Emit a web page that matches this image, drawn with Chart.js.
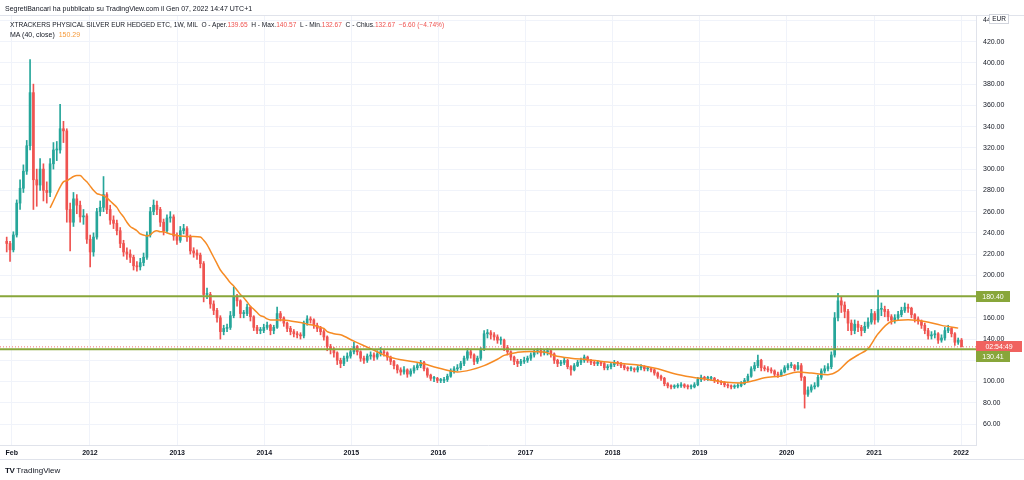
<!DOCTYPE html>
<html>
<head>
<meta charset="utf-8">
<script src="https://cdn.jsdelivr.net/npm/chart.js@4.4.1/dist/chart.umd.min.js"></script>
<style>
  body { margin: 0; background: #fff; }
  #wrap { position: relative; width: 1024px; height: 480px; font-family: "Liberation Sans", Arial, sans-serif; color: #131722; }
  .t { position: absolute; white-space: pre; font-size: 7px; line-height: 9px; }
  .red { color: #ef5350; }
  .ora { color: #f59a3b; }
</style>
</head>
<body>
<div id="wrap">
  <canvas id="chart" width="1024" height="480"></canvas>
  <div class="t" style="left:5px;top:4px">SegretiBancari ha pubblicato su TradingView.com il Gen 07, 2022 14:47 UTC+1</div>
  <div class="t" style="left:10px;top:20px;font-size:6.6px">XTRACKERS PHYSICAL SILVER EUR HEDGED ETC, 1W, MIL  O - Aper.<span class="red">139.65</span>  H - Max.<span class="red">140.57</span>  L - Min.<span class="red">132.67</span>  C - Chius.<span class="red">132.67  −6.60 (−4.74%)</span></div>
  <div class="t" style="left:10px;top:30px">MA (40, close)  <span class="ora">150.29</span></div>
  <div class="t" style="left:5px;top:466px;font-size:8px"><b style="letter-spacing:-0.5px">TV</b> TradingView</div>
</div>
<script>
// biweekly candles, first one starts on this date
const startDate = '2011-01-17';
const stepDays = 14;
const firstOpen = 232;

const closes = [
  230, 224, 238, 268, 282, 298, 322, 372, 290, 285,
  300, 280, 278, 305, 318, 318, 338, 336, 262, 250,
  272, 266, 255, 256, 234, 222, 236, 260, 264, 276,
  262, 252, 249, 242, 230, 222, 220, 217, 209, 208,
  212, 217, 238, 260, 266, 262, 250, 242, 254, 255,
  237, 233, 242, 244, 236, 223, 221, 219, 211, 182,
  182, 173, 167, 160, 147, 150, 151, 162, 180, 176,
  164, 164, 170, 161, 151, 148, 148, 151, 153, 148,
  151, 164, 160, 155, 150, 147, 145, 144, 143, 155,
  159, 158, 153, 150, 147, 142, 133, 130, 127, 120,
  117, 122, 124, 128, 133, 128, 122, 120, 124, 125,
  123, 126, 128, 127, 123, 119, 115, 111, 109, 111,
  107, 110, 113, 115, 118, 112, 106, 103, 103, 101,
  101, 102, 105, 110, 112, 113, 117, 122, 128, 125,
  119, 122, 130, 145, 146, 144, 142, 139, 139, 132,
  128, 123, 119, 117, 119, 120, 122, 125, 128, 129,
  127, 128, 129, 126, 120, 117, 118, 120, 114, 111,
  115, 118, 120, 123, 120, 118, 117, 118, 117, 113,
  114, 116, 118, 117, 115, 113, 112, 112, 111, 113,
  114, 112, 112, 111, 108, 105, 103, 98, 96, 95,
  95.5, 96, 97, 95.5, 95, 95, 97, 102, 104, 103,
  103, 103, 101, 100, 99, 97, 96, 95, 95.5, 96,
  98, 101, 105, 112, 115, 120, 113, 112, 111, 110,
  107, 106, 109, 113, 115, 115, 112, 115, 104, 88,
  92, 95, 96, 104, 110, 112, 114, 125, 160, 176,
  172, 166, 155, 148, 154, 151, 148, 152, 156, 164,
  158, 168, 168, 166, 161, 158, 160, 163, 167, 170,
  169, 163, 159, 157, 153, 148, 143, 144, 145, 139,
  141, 148, 150, 145, 137, 139, 132.67
];

const highs = [
  236, 232, 241, 271, 290, 304, 327, 403, 380, 300,
  310, 305, 288, 310, 325, 326, 361, 345, 338, 268,
  278, 276, 270, 262, 258, 238, 240, 263, 270, 293,
  278, 266, 256, 252, 245, 233, 226, 224, 219, 213,
  216, 221, 241, 264, 271, 270, 264, 253, 257, 260,
  257, 240, 246, 248, 246, 238, 226, 224, 221, 213,
  188, 184, 176, 169, 162, 153, 154, 166, 189, 182,
  177, 167, 173, 171, 162, 153, 151, 154, 156, 154,
  153, 170, 166, 161, 156, 152, 149, 147, 146, 157,
  162, 161, 159, 155, 152, 149, 143, 135, 132, 128,
  122, 124, 127, 131, 137, 134, 129, 124, 126, 128,
  127, 129, 132, 130, 128, 124, 120, 116, 113, 114,
  112, 112, 115, 117, 120, 119, 113, 107, 105, 104,
  103, 104, 107, 112, 114, 116, 119, 124, 131, 130,
  126, 124, 132, 148, 149, 148, 146, 144, 142, 140,
  134, 129, 124, 121, 121, 123, 124, 127, 130, 131,
  131, 130, 131, 130, 127, 121, 120, 122, 121, 115,
  117, 120, 122, 125, 124, 121, 120, 120, 119, 118,
  116, 118, 120, 119, 118, 116, 114, 114, 113, 115,
  116, 115, 114, 113, 112, 109, 106, 104, 99, 97,
  97, 98, 99, 98, 97, 97, 99, 104, 106, 105,
  105, 105, 104, 102, 101, 100, 98, 97, 97, 98,
  100, 103, 107, 114, 118, 125, 121, 115, 114, 113,
  111, 109, 111, 115, 117, 118, 116, 118, 117, 105,
  95, 97, 99, 106, 112, 115, 117, 128, 165, 183,
  180, 175, 168, 158, 158, 157, 153, 156, 160, 168,
  166, 186, 174, 171, 168, 163, 163, 166, 170, 174,
  173, 170, 164, 161, 158, 155, 150, 147, 148, 146,
  144, 151, 153, 151, 146, 141, 140.57
];

const lows = [
  222, 213, 222, 236, 262, 278, 295, 318, 262, 265,
  280, 270, 268, 274, 300, 308, 315, 325, 250, 223,
  246, 258, 250, 248, 230, 208, 218, 234, 256, 260,
  258, 248, 244, 238, 226, 218, 215, 212, 205, 204,
  205, 209, 215, 236, 257, 257, 246, 238, 240, 250,
  233, 229, 231, 239, 232, 220, 217, 215, 207, 175,
  178, 169, 163, 156, 140, 144, 147, 149, 160, 171,
  160, 160, 162, 157, 148, 145, 145, 146, 149, 144,
  145, 150, 157, 152, 147, 144, 142, 141, 140, 141,
  153, 155, 150, 147, 144, 139, 129, 126, 123, 116,
  113, 115, 119, 122, 126, 125, 119, 117, 118, 121,
  120, 121, 124, 124, 120, 116, 112, 108, 106, 107,
  104, 105, 108, 111, 113, 110, 104, 101, 100, 99,
  99, 99, 100, 104, 108, 110, 111, 115, 120, 122,
  116, 117, 120, 129, 141, 140, 139, 136, 135, 129,
  125, 120, 116, 114, 115, 117, 118, 120, 123, 126,
  124, 125, 125, 123, 117, 114, 115, 116, 112, 106,
  110, 114, 116, 118, 118, 116, 115, 115, 115, 111,
  111, 112, 114, 115, 113, 111, 110, 110, 109, 109,
  111, 110, 110, 109, 106, 103, 101, 96, 94, 93,
  93.5, 94, 94.5, 94, 93, 93, 94, 96, 100, 101,
  101, 101, 99, 98, 97, 95, 94, 93, 93.5, 94,
  95, 97, 100, 104, 110, 113, 110, 110, 109, 108,
  105, 104, 105, 108, 111, 113, 110, 111, 101, 75,
  86, 90, 93, 95, 102, 108, 110, 112, 123, 157,
  165, 160, 148, 144, 145, 147, 143, 146, 150, 154,
  154, 156, 162, 161, 157, 154, 155, 158, 161, 165,
  165, 160, 156, 154, 150, 145, 140, 140, 141, 136,
  137, 139, 146, 142, 134, 135, 132.67
];

// MA(40, close) at these candle positions
const maSlots = [
  13, 14, 15.5, 17, 18, 19, 20, 21, 22, 23,
  24, 25, 26, 27, 28, 29, 30, 31, 32, 33,
  34, 35, 36, 37, 38, 39, 40, 41, 42, 43,
  44, 45, 46, 47, 48, 49, 50, 51, 52, 54,
  56, 58, 59, 60, 61, 62, 63, 64, 65, 66,
  67, 68, 69, 70, 71, 72, 73, 74, 75, 76,
  77, 78, 79, 80, 83, 85, 87, 88, 89, 90,
  92, 93, 94, 95, 96, 97, 98, 100, 104, 109,
  114, 119, 124, 129, 133, 135, 139, 143, 147, 149,
  153, 157, 161, 164, 169, 174, 180, 185, 190, 195,
  200, 205, 210, 215, 220, 224, 227, 232, 237, 241,
  246, 249, 252, 255, 258, 261, 265, 270, 275, 280, 285
];
const maValues = [
  263.5, 270, 280, 288, 289, 291, 293, 294, 294, 291,
  288, 284, 280, 277, 276, 275, 273, 270, 267, 264,
  259, 255, 250, 246, 244, 242, 239, 238, 237, 238,
  241, 242, 241, 241, 240, 239, 238.5, 237.5, 237, 236.6,
  236.6, 236, 233, 229, 223, 217, 211, 205, 201, 197,
  193, 190, 186, 182, 179, 175, 171, 168, 165, 162,
  161, 159, 158, 158, 158, 157, 156, 155.5, 155, 154,
  153, 152, 151, 150, 147, 146, 145, 144, 138, 131,
  123.7, 120, 117.4, 113, 110, 109, 111, 115, 121, 124.6,
  127.5, 128.4, 127.8, 124.6, 122, 120.6, 118.4, 116.8, 115.2, 112,
  107.4, 104.3, 102, 99.5, 98.6, 101, 103.6, 105.2, 109, 108,
  106.5, 110, 119, 125, 131, 145, 156.5, 158.2, 156.6, 152.9, 150.3
];

const levels = [180.40, 130.41];
const lastPrice = 132.67;
const countdown = '02:54:49';
const priceTicks = [60, 80, 100, 120, 140, 160, 180, 200, 220, 240, 260, 280, 300, 320, 340, 360, 380, 400, 420, 440];
const timeTickDates = ['2011-02-07', '2012-01-01', '2013-01-01', '2014-01-01', '2015-01-01', '2016-01-01',
  '2017-01-01', '2018-01-01', '2019-01-01', '2020-01-01', '2021-01-01', '2022-01-01'];
const timeTickLabels = ['Feb', '2012', '2013', '2014', '2015', '2016', '2017', '2018', '2019', '2020', '2021', '2022'];

const DAY = 86400000;
const dayOf = d => (Date.parse(d) - Date.parse(startDate)) / DAY;
const xMin = -28.1, xMax = 4064.7;

const UP = '#26a69a', DOWN = '#ef5350';
const opens = closes.map((c, i) => i === 0 ? firstOpen : closes[i - 1]);
const colorOf = i => closes[i] >= opens[i] ? UP : DOWN;

const bodies = closes.map((c, i) => ({ x: i * stepDays, y: [opens[i], c] }));
const wicks = closes.map((c, i) => ({ x: i * stepDays, y: [lows[i], highs[i]] }));
const maPoints = maSlots.map((s, i) => ({ x: s * stepDays, y: maValues[i] }));
const flat = v => [{ x: xMin, y: v }, { x: xMax, y: v }];

const FONT = '"Liberation Sans", Arial, sans-serif';
const GREEN = '#88a63a';

const paneFrame = {
  id: 'paneFrame',
  beforeDraw(chart) {
    const { ctx, chartArea: a } = chart;
    ctx.save();
    ctx.fillStyle = '#fff';
    ctx.fillRect(0, 0, chart.width, chart.height);
    ctx.strokeStyle = '#e0e3eb';
    ctx.lineWidth = 1;
    ctx.beginPath();
    ctx.moveTo(0, a.top - 0.5); ctx.lineTo(chart.width, a.top - 0.5);
    ctx.moveTo(0, a.bottom + 14.5); ctx.lineTo(chart.width, a.bottom + 14.5);
    ctx.stroke();
    ctx.restore();
  }
};

function tag(ctx, x, yc, w, h, fill, text) {
  ctx.fillStyle = fill;
  ctx.fillRect(x, Math.round(yc - h / 2), w, h);
  ctx.fillStyle = '#fff';
  ctx.font = '7px ' + FONT;
  ctx.textBaseline = 'middle';
  ctx.textAlign = 'center';
  ctx.fillText(text, x + w / 2, yc + 0.5);
}

const priceTags = {
  id: 'priceTags',
  afterDraw(chart) {
    const { ctx } = chart;
    const y = chart.scales.y;
    const left = y.left;
    ctx.save();
    // currency box
    ctx.fillStyle = '#fff';
    ctx.fillRect(left + 13, 14, 20, 10);
    ctx.strokeStyle = '#d1d4dc';
    ctx.strokeRect(left + 13.5, 14.5, 19, 9);
    ctx.fillStyle = '#131722';
    ctx.font = '6.5px ' + FONT;
    ctx.textAlign = 'center';
    ctx.textBaseline = 'middle';
    ctx.fillText('EUR', left + 23, 19.5);
    tag(ctx, left, y.getPixelForValue(levels[0]), 34, 11, GREEN, levels[0].toFixed(2));
    tag(ctx, left, y.getPixelForValue(lastPrice), 46, 11, '#f0625f', countdown);
    tag(ctx, left, y.getPixelForValue(levels[1]) + 7.5, 34, 11, GREEN, levels[1].toFixed(2));
    ctx.restore();
  }
};

new Chart(document.getElementById('chart'), {
  type: 'bar',
  data: {
    datasets: [
      {
        type: 'line', data: flat(levels[0]), borderColor: GREEN, borderWidth: 2,
        pointRadius: 0, order: 0
      },
      {
        type: 'line', data: flat(levels[1]), borderColor: GREEN, borderWidth: 2,
        pointRadius: 0, order: 0
      },
      {
        type: 'line', data: flat(lastPrice), borderColor: 'rgba(239,83,80,0.8)', borderWidth: 1,
        borderDash: [1, 2], pointRadius: 0, order: 1
      },
      {
        type: 'line', data: maPoints, borderColor: '#f68b24', borderWidth: 1.5,
        pointRadius: 0, cubicInterpolationMode: 'monotone', order: 2
      },
      {
        data: bodies, grouped: false, barThickness: 2, minBarLength: 1,
        backgroundColor: c => colorOf(c.dataIndex), order: 3
      },
      {
        data: wicks, grouped: false, barThickness: 1,
        backgroundColor: c => colorOf(c.dataIndex), order: 4
      }
    ]
  },
  options: {
    responsive: false,
    devicePixelRatio: 1,
    animation: false,
    layout: { padding: { top: 16, bottom: 21, left: 0, right: 0 } },
    plugins: { legend: { display: false }, tooltip: { enabled: false } },
    scales: {
      x: {
        type: 'linear', min: xMin, max: xMax, offset: false,
        afterFit: s => { s.height = 14; },
        afterBuildTicks: s => { s.ticks = timeTickDates.map(d => ({ value: dayOf(d) })); },
        ticks: {
          autoSkip: false, maxRotation: 0, padding: 4, color: '#131722',
          font: { family: FONT, size: 7, weight: 'bold' },
          callback: (v, i) => timeTickLabels[i]
        },
        grid: { color: '#f0f3fa', drawTicks: false, offset: false },
        border: { color: '#e0e3eb' }
      },
      y: {
        position: 'right', min: 40.27, max: 444.14,
        afterFit: s => { s.width = 48; },
        afterBuildTicks: s => { s.ticks = priceTicks.map(v => ({ value: v })); },
        ticks: {
          padding: 7, color: '#131722',
          font: { family: FONT, size: 7 },
          callback: v => v.toFixed(2)
        },
        grid: { color: '#f0f3fa', drawTicks: false },
        border: { color: '#e0e3eb' }
      }
    }
  },
  plugins: [paneFrame, priceTags]
});
</script>
</body>
</html>
